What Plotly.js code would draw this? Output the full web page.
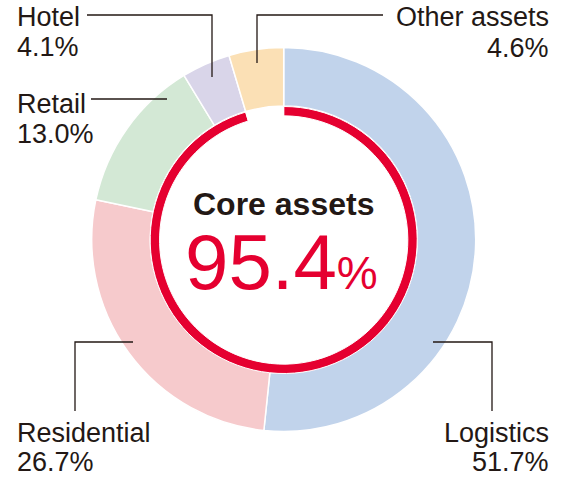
<!DOCTYPE html>
<html>
<head>
<meta charset="utf-8">
<script src="https://cdn.plot.ly/plotly-3.0.1.min.js"></script>
<style>html,body{margin:0;padding:0;background:#fff;}#chart{width:568px;height:482px;}</style>
</head>
<body>
<div id="chart"></div>
<script>
// ---- data ----
const categories = ["Logistics", "Residential", "Retail", "Hotel", "Other assets"];
const shares = [51.7, 26.7, 13.0, 4.1, 4.6];
const sliceColors = ["#c1d3eb", "#f6cacc", "#d3e8d5", "#d9d5e9", "#fbe0b5"];
const coreLabel = "Core assets";
const coreShare = 95.4;
const ringValues = [coreShare, 100 - coreShare];

// ---- layout helpers ----
const W = 568, H = 482;
const px = x => x / W;
const py = y => 1 - y / H;
const ink = "#231815";
const red = "#e50030";
const FONT = "Liberation Sans, Arial, Helvetica, sans-serif";

function pct(v) { return v.toFixed(1) + "%"; }

const outer = {
  type: "pie",
  values: shares,
  labels: categories,
  sort: false,
  direction: "clockwise",
  rotation: 0,
  hole: 0.695,
  textinfo: "none",
  hoverinfo: "label+percent",
  marker: { colors: sliceColors, line: { color: "#ffffff", width: 1.5 } },
  domain: { x: [px(283.7 - 192), px(283.7 + 192)], y: [py(239.5 + 192), py(239.5 - 192)] },
  showlegend: false
};

const ring = {
  type: "pie",
  values: ringValues,
  labels: ["Core", "Non-core"],
  sort: false,
  direction: "clockwise",
  rotation: 0,
  hole: 0.93,
  textinfo: "none",
  hoverinfo: "skip",
  marker: { colors: [red, "rgba(255,255,255,0)"], line: { color: "#ffffff", width: 1 } },
  domain: { x: [px(283.7 - 133.5), px(283.7 + 133.5)], y: [py(240 + 133.5), py(240 - 133.5)] },
  showlegend: false
};

// label positions (name line center y, percent line center y, x, anchor)
const labelPos = {
  "Hotel":        { x: 16,  y1: 17,  y2: 47.5, anchor: "left" },
  "Retail":       { x: 16,  y1: 104, y2: 133.5, anchor: "left" },
  "Other assets": { x: 550, y1: 17,  y2: 48,  anchor: "right" },
  "Residential":  { x: 16,  y1: 433, y2: 462, anchor: "left" },
  "Logistics":    { x: 550, y1: 432.5, y2: 461.5, anchor: "right" }
};

const annotations = [];
categories.forEach((c, i) => {
  const p = labelPos[c];
  annotations.push({ xref: "paper", yref: "paper", x: px(p.x), y: py(p.y1), xanchor: p.anchor, yanchor: "middle",
    text: c, showarrow: false, borderpad: 0, font: { family: FONT, size: 27, color: ink } });
  annotations.push({ xref: "paper", yref: "paper", x: px(p.x), y: py(p.y2), xanchor: p.anchor, yanchor: "middle",
    text: pct(shares[i]), showarrow: false, borderpad: 0, font: { family: FONT, size: 27, color: ink } });
});
annotations.push({ xref: "paper", yref: "paper", x: px(283.5), y: py(204), xanchor: "center", yanchor: "middle",
  text: "<b>" + coreLabel + "</b>", showarrow: false, font: { family: FONT, size: 32, color: ink } });
annotations.push({ xref: "paper", yref: "paper", x: px(281.5), y: py(262), xanchor: "center", yanchor: "middle",
  text: coreShare.toFixed(1) + "<span style='font-size:46px'>%</span>", showarrow: false,
  font: { family: FONT, size: 78, color: red } });

// leader lines (pixel paths converted to paper)
const leaders = [
  [[87, 15], [212, 15], [212, 77]],
  [[383, 15], [257, 15], [257, 63]],
  [[91, 99], [167, 99]],
  [[133, 342], [75, 342], [75, 411]],
  [[433, 342], [492, 342], [492, 411]]
];
const shapes = leaders.map(pts => ({
  type: "path", xref: "paper", yref: "paper",
  path: pts.map((p, k) => (k ? "L" : "M") + px(p[0]) + "," + py(p[1])).join(" "),
  line: { color: ink, width: 1.3 }
}));

Plotly.newPlot("chart", [outer, ring], {
  width: W, height: H,
  margin: { l: 0, r: 0, t: 0, b: 0 },
  paper_bgcolor: "#ffffff",
  showlegend: false,
  annotations: annotations,
  shapes: shapes
}, { staticPlot: true, displayModeBar: false });
</script>
</body>
</html>
